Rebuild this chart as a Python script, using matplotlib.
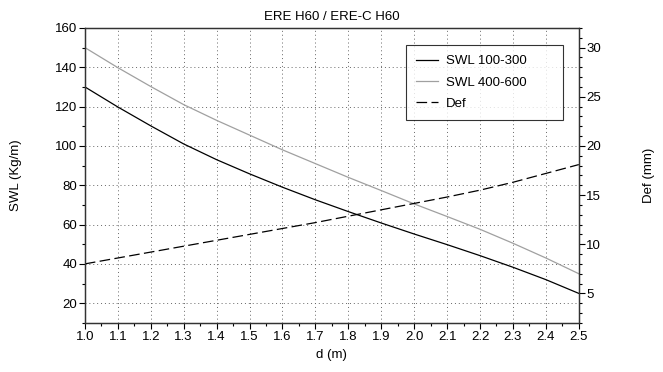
import matplotlib
matplotlib.use("Agg")
from matplotlib import pyplot as plt
from matplotlib.ticker import MultipleLocator

plt.rcParams['font.family'] = ['Liberation Sans', 'DejaVu Sans']

d = [1.0, 1.1, 1.2, 1.3, 1.4, 1.5, 1.6, 1.7, 1.8, 1.9, 2.0, 2.1, 2.2, 2.3, 2.4, 2.5]
swl_100_300 = [130, 119.8, 110.2, 101, 93, 85.8, 79, 72.6, 66.6, 60.8, 55.2, 49.8, 44.2, 38.3, 32, 25]
swl_400_600 = [150, 139.8, 130.2, 121, 113, 105.5, 98, 91, 84, 77.3, 70.5, 64.1, 57.6, 50.5, 43, 35]
defl = [8, 8.6, 9.2, 9.8, 10.4, 11.0, 11.6, 12.2, 12.85, 13.5, 14.15, 14.8, 15.5, 16.3, 17.2, 18.1]

fig = plt.figure(figsize=(6.63, 3.72), dpi=100)
ax = fig.add_axes([0.128, 0.132, 0.745, 0.793])
ax2 = ax.twinx()

l1, = ax.plot(d, swl_100_300, color='black', lw=0.9, label='SWL 100-300')
l2, = ax.plot(d, swl_400_600, color='#a0a0a0', lw=0.9, label='SWL 400-600')
l3, = ax2.plot(d, defl, color='black', lw=0.9, dashes=(8.5, 3.5), label='Def')

ax.set_xlim(1.0, 2.5)
ax.set_ylim(10, 160)
ax2.set_ylim(2, 32)

ax.xaxis.set_minor_locator(MultipleLocator(0.05))
ax.yaxis.set_major_locator(MultipleLocator(20))
ax.yaxis.set_minor_locator(MultipleLocator(10))
ax2.yaxis.set_major_locator(MultipleLocator(5))
ax2.yaxis.set_minor_locator(MultipleLocator(1))
ax.set_xticks(d)
ax.set_xticklabels(['%.1f' % v for v in d])

ax.grid(True, which='major', linestyle=(0, (1, 3)), color='#666666', lw=0.7)

for a in (ax, ax2):
    a.tick_params(which='major', direction='out', length=4, width=0.8, labelsize=9.5, pad=1.5)
    a.tick_params(which='minor', direction='out', length=2.5, width=0.8)
    for s in a.spines.values():
        s.set_color('#333333')
        s.set_linewidth(0.9)

ax.set_title('ERE H60 / ERE-C H60', fontsize=9.5, pad=6)
ax.set_xlabel('d (m)', fontsize=9.5, labelpad=5)
ax.set_ylabel('SWL (Kg/m)', fontsize=9.5, labelpad=24)
ax2.set_ylabel('Def (mm)', fontsize=9.5, labelpad=30)

leg = ax.legend(handles=[l1, l2, l3], loc='upper left',
                bbox_to_anchor=(0.650, 0.688, 0.318, 0.254), mode='expand',
                fontsize=9.5, frameon=True, fancybox=False, handlelength=1.7,
                handletextpad=0.6, borderpad=0.75, labelspacing=0.7, borderaxespad=0)
leg.get_frame().set_edgecolor('black')
leg.get_frame().set_linewidth(0.8)

fig.savefig('out.png', dpi=100)
